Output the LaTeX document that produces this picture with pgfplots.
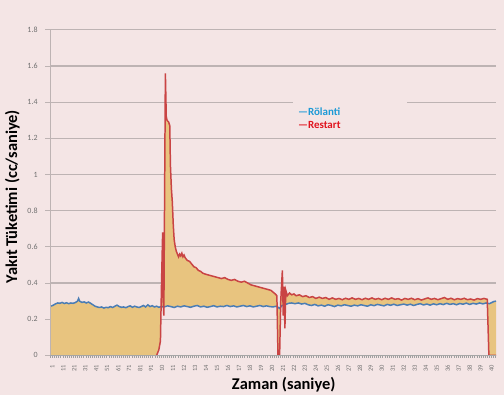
\documentclass[border=0pt]{standalone}
\usepackage{fontspec}
\setmainfont{Carlito}
\usepackage{pgfplots}
\usepackage{pgfplotstable}
\pgfplotsset{compat=1.18}
\usepgfplotslibrary{fillbetween}
\definecolor{bg}{HTML}{F4E5E5}
\definecolor{fillc}{HTML}{E8C47F}
\definecolor{redc}{HTML}{C94444}
\definecolor{bluec}{HTML}{4A7DB5}
\definecolor{gridc}{HTML}{BDB3B3}
\definecolor{legblue}{HTML}{1D9AD6}
\definecolor{legred}{HTML}{E0141E}
\definecolor{tickc}{HTML}{707070}

\pgfplotstableread{
x y
0 0.272
2 0.278
4 0.285
6 0.29
8 0.288
10 0.293
12 0.287
14 0.291
16 0.286
18 0.29
20 0.288
22 0.292
24 0.3
25 0.315
26 0.3
28 0.293
30 0.296
32 0.29
34 0.295
36 0.288
38 0.28
40 0.272
42 0.268
44 0.265
46 0.268
48 0.262
50 0.266
52 0.264
54 0.27
56 0.265
58 0.272
60 0.278
62 0.27
64 0.266
66 0.268
68 0.264
70 0.27
72 0.274
74 0.266
76 0.272
78 0.268
80 0.265
82 0.27
84 0.276
86 0.268
88 0.28
90 0.27
92 0.275
94 0.268
96 0.272
98 0.266
100 0.27
103 0.268
106 0.274
109 0.27
112 0.265
115 0.272
118 0.268
121 0.274
124 0.27
127 0.266
130 0.272
133 0.276
136 0.268
139 0.272
142 0.266
145 0.27
148 0.275
151 0.268
154 0.272
157 0.27
160 0.276
163 0.27
166 0.274
169 0.268
172 0.272
175 0.276
178 0.27
181 0.274
184 0.268
187 0.272
190 0.276
193 0.27
196 0.274
199 0.27
202 0.268
205 0.272
208 0.26
210 0.275
213 0.28
216 0.288
219 0.29
222 0.286
225 0.29
228 0.284
231 0.288
234 0.28
237 0.276
240 0.282
243 0.274
246 0.278
249 0.272
252 0.28
255 0.276
258 0.27
261 0.278
264 0.274
267 0.28
270 0.276
273 0.272
276 0.278
279 0.274
282 0.28
285 0.276
288 0.272
291 0.28
294 0.275
297 0.282
300 0.278
303 0.274
306 0.282
309 0.277
312 0.283
315 0.276
318 0.28
321 0.284
324 0.278
327 0.283
330 0.276
333 0.282
336 0.286
339 0.279
342 0.284
345 0.278
348 0.285
351 0.28
354 0.286
357 0.281
360 0.288
363 0.282
366 0.286
369 0.28
372 0.287
375 0.283
378 0.289
381 0.282
384 0.288
387 0.284
390 0.29
393 0.285
396 0.29
399 0.286
401 0.292
403 0.298
405 0.3
}\bluetab

\pgfplotstableread{
x y
0 0
96 0
98 0.03
99.5 0.08
100.5 0.4
101.5 0.68
102 0.3
102.6 0.22
103.2 0.8
104 1.56
104.8 1.32
105.5 1.3
107 1.29
108 1.27
108.6 1.05
109.5 0.92
110.3 0.85
111.2 0.72
112 0.64
113 0.6
114 0.575
115 0.56
116 0.545
117 0.56
118 0.55
119 0.565
120 0.545
121 0.555
122 0.54
124 0.525
126 0.52
128 0.505
130 0.49
132 0.485
134 0.47
136 0.465
138 0.455
140 0.45
143 0.445
146 0.44
149 0.435
152 0.43
155 0.425
158 0.43
161 0.42
164 0.415
167 0.42
170 0.41
173 0.405
176 0.41
179 0.4
182 0.39
185 0.385
188 0.38
191 0.375
194 0.37
197 0.365
200 0.36
202 0.35
204 0.34
205.5 0.33
206.5 0.0
208 0.0
209 0.3
210.5 0.47
211.3 0.22
212 0.38
212.8 0.15
213.6 0.36
215 0.33
217 0.345
219 0.335
221 0.34
223 0.33
226 0.335
229 0.325
232 0.33
235 0.32
238 0.325
241 0.315
244 0.322
247 0.315
250 0.32
253 0.31
256 0.318
259 0.31
262 0.315
265 0.308
268 0.316
271 0.31
274 0.318
277 0.31
280 0.315
283 0.308
286 0.316
289 0.31
292 0.318
295 0.31
298 0.315
301 0.308
304 0.316
307 0.31
310 0.318
313 0.31
316 0.314
319 0.306
322 0.315
325 0.31
328 0.316
331 0.308
334 0.314
337 0.306
340 0.312
343 0.318
346 0.31
349 0.315
352 0.308
355 0.314
358 0.32
361 0.31
364 0.316
367 0.308
370 0.314
373 0.31
376 0.316
379 0.308
382 0.312
385 0.306
388 0.314
391 0.31
394 0.315
397 0.31
398.5 0.0
405 0
}\redtab

\begin{document}
\pagecolor{bg}
\begin{tikzpicture}
\begin{axis}[
  at={(0pt,0pt)}, anchor=south west,
  scale only axis, width=448pt, height=327pt,
  xmin=-1, xmax=405, ymin=0, ymax=1.8,
  axis lines*=left,
  axis line style={gridc, line width=1pt},
  ymajorgrids, grid style={gridc, line width=1.2pt},
  ytick={0,0.2,0.4,0.6,0.8,1,1.2,1.4,1.6,1.8},
  yticklabels={0,0.2,0.4,0.6,0.8,1,1.2,1.4,1.6,1.8},
  ytick style={gridc, line width=1pt},
  tick align=outside, major tick length=5pt,
  y tick label style={font=\fontsize{8}{9}\selectfont, text=tickc, xshift=-4pt},
  xtick={1,11,...,401},
  xticklabels={1,11,21,31,41,51,61,71,81,91,10,11,12,13,14,15,16,17,18,19,20,21,22,23,24,25,26,27,28,29,30,31,32,33,34,35,36,37,38,39,40},
  xtick style={draw=none},
  x tick label style={rotate=90, anchor=east, font=\fontsize{6.5}{7}\selectfont, text=tickc, xshift=-1pt},
  xlabel={\bfseries Zaman (saniye)},
  ylabel={\bfseries Yakıt Tüketimi (cc/saniye)},
  every axis x label/.style={at={(axis description cs:0.524,0)}, anchor=center, yshift=-29pt, font=\fontsize{16.5}{18}\selectfont},
  every axis y label/.style={at={(axis description cs:0,0.5)}, xshift=-38pt, yshift=-4pt, rotate=90, anchor=center, font=\fontsize{16.5}{18}\selectfont},
]
\addplot[name path=R, draw=none, forget plot] table[x=x, y=y] {\redtab};
\addplot[name path=B, draw=none, forget plot] table[x=x, y=y] {\bluetab};
\addplot[fillc, forget plot] fill between[of=R and B];
\addplot[bluec, line width=1.5pt] table[x=x, y=y] {\bluetab};
\addplot[redc, line width=1.5pt, restrict x to domain=95:406] table[x=x, y=y] {\redtab};
\end{axis}
\draw[gray!70, line width=0.8pt] (0pt,0pt) -- (448pt,0pt);
\draw[gray!75, line width=2.2pt, dash pattern=on 0.7pt off 1.4pt] (0pt,-1.5pt) -- (448pt,-1.5pt);
\fill[bg] (244pt,224pt) rectangle (359pt,260pt);
\node[anchor=west, font=\fontsize{11}{12}\selectfont\bfseries, text=legblue, inner sep=0pt] at (249pt,244.5pt) {---Rölanti};
\node[anchor=west, font=\fontsize{11}{12}\selectfont\bfseries, text=legred, inner sep=0pt] at (249pt,231pt) {---Restart};
\pgfresetboundingbox
\path[use as bounding box] (-48pt,-40pt) rectangle (456pt,357pt);
\end{tikzpicture}
\end{document}
